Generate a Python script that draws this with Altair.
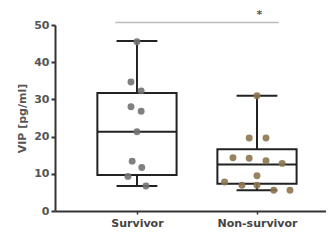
import altair as alt
import pandas as pd

# ---- data ----
groups = ["Survivor", "Non-survivor"]
group_pos = [0, 1]
box_min = [6.7, 5.6]
box_q1 = [9.7, 7.3]
box_median = [21.3, 12.5]
box_q3 = [31.7, 16.6]
box_max = [45.7, 31.0]

surv_values = [45.5, 34.7, 32.3, 28.0, 26.8, 21.3, 13.4, 11.7, 9.3, 6.7]
surv_jitter = [0.0, -0.05, 0.035, -0.05, 0.035, 0.0, -0.04, 0.04, -0.075, 0.075]
non_values = [31.0, 19.6, 19.6, 14.3, 14.2, 13.5, 12.8, 9.5, 7.8, 6.9, 6.9, 5.6, 5.6]
non_jitter = [0.0, -0.065, 0.075, -0.2, -0.065, 0.075, 0.21, 0.0, -0.27, -0.125, 0.0, 0.14, 0.275]

sig_from = [-0.18, 1.18]
sig_y = 50.7
sig_label = "*"

point_colors = ["#727272", "#8d7650"]
box_half = 0.33
cap_half = 0.17

# ---- tables ----
box_df = pd.DataFrame({
    "group": groups, "pos": group_pos, "mn": box_min, "q1": box_q1,
    "med": box_median, "q3": box_q3, "mx": box_max,
})
box_df["lo"] = box_df["pos"] - box_half
box_df["hi"] = box_df["pos"] + box_half
box_df["clo"] = box_df["pos"] - cap_half
box_df["chi"] = box_df["pos"] + cap_half

pts_df = pd.DataFrame({
    "group": [groups[0]] * len(surv_values) + [groups[1]] * len(non_values),
    "value": surv_values + non_values,
    "x": [group_pos[0] + j for j in surv_jitter] + [group_pos[1] + j for j in non_jitter],
})

sig_df = pd.DataFrame({"x1": [sig_from[0]], "x2": [sig_from[1]], "y": [sig_y],
                       "tx": [1.02], "ty": [52.8], "label": [sig_label]})

FONT = "DejaVu Sans"
x_scale = alt.Scale(domain=[-0.683, 1.575], nice=False, zero=False)
x_axis = alt.Axis(values=group_pos, title=None, grid=False,
                  labelExpr="datum.value == 0 ? 'Survivor' : 'Non-survivor'",
                  domainColor="#333333", domainWidth=2, tickColor="#333333",
                  tickWidth=1.5, tickSize=3, labelPadding=3, labelFont=FONT,
                  labelFontSize=11, labelFontWeight="bold", labelColor="#444444")
y_scale = alt.Scale(domain=[0, 50], nice=False)
y_axis = alt.Axis(values=[0, 10, 20, 30, 40, 50], title="VIP [pg/ml]", grid=False,
                  domainColor="#333333", domainWidth=2, tickColor="#333333",
                  tickWidth=2, tickSize=4, labelPadding=2, labelFont=FONT,
                  labelFontSize=11, labelFontWeight="bold", labelColor="#555555",
                  titleFont=FONT, titleFontSize=11, titleFontWeight="bold",
                  titleColor="#555555", titlePadding=6)

def X(field):
    return alt.X(field, type="quantitative", scale=x_scale, axis=x_axis)

def Y(field):
    return alt.Y(field, type="quantitative", scale=y_scale, axis=y_axis)

base = alt.Chart(box_df)
stroke = dict(color="#222222", strokeWidth=2)

box = base.mark_rect(fillOpacity=0, stroke="#222222", strokeWidth=2, clip=False).encode(
    x=X("lo"), x2="hi", y=Y("q1"), y2="q3")
median = base.mark_rule(**stroke).encode(x=X("lo"), x2="hi", y=Y("med"))
whisk_up = base.mark_rule(**stroke).encode(x=X("pos"), y=Y("q3"), y2="mx")
whisk_dn = base.mark_rule(**stroke).encode(x=X("pos"), y=Y("mn"), y2="q1")
cap_up = base.mark_rule(**stroke).encode(x=X("clo"), x2="chi", y=Y("mx"))
cap_dn = base.mark_rule(**stroke).encode(x=X("clo"), x2="chi", y=Y("mn"))

points = alt.Chart(pts_df).mark_circle(size=48, opacity=0.9).encode(
    x=X("x"), y=Y("value"),
    color=alt.Color("group:N", scale=alt.Scale(domain=groups, range=point_colors), legend=None))

sig = alt.Chart(sig_df).mark_rule(color="#bbbbbb", strokeWidth=1.5, clip=False).encode(
    x=X("x1"), x2="x2", y=Y("y"))
star = alt.Chart(sig_df).mark_text(font=FONT, fontSize=11, fontWeight="bold",
                                   color="#555555", baseline="middle", clip=False).encode(
    x=X("tx"), y=Y("ty"), text="label:N")

chart = alt.layer(box, median, whisk_up, whisk_dn, cap_up, cap_dn, points, sig, star).properties(
    width=271, height=186,
    autosize=alt.AutoSizeParams(type="none"),
    padding={"left": 47, "top": 17, "right": 0, "bottom": 18},
    background="white",
).configure_view(strokeWidth=0)

chart.save("out.html", embed_options={"renderer": "svg", "actions": False})
